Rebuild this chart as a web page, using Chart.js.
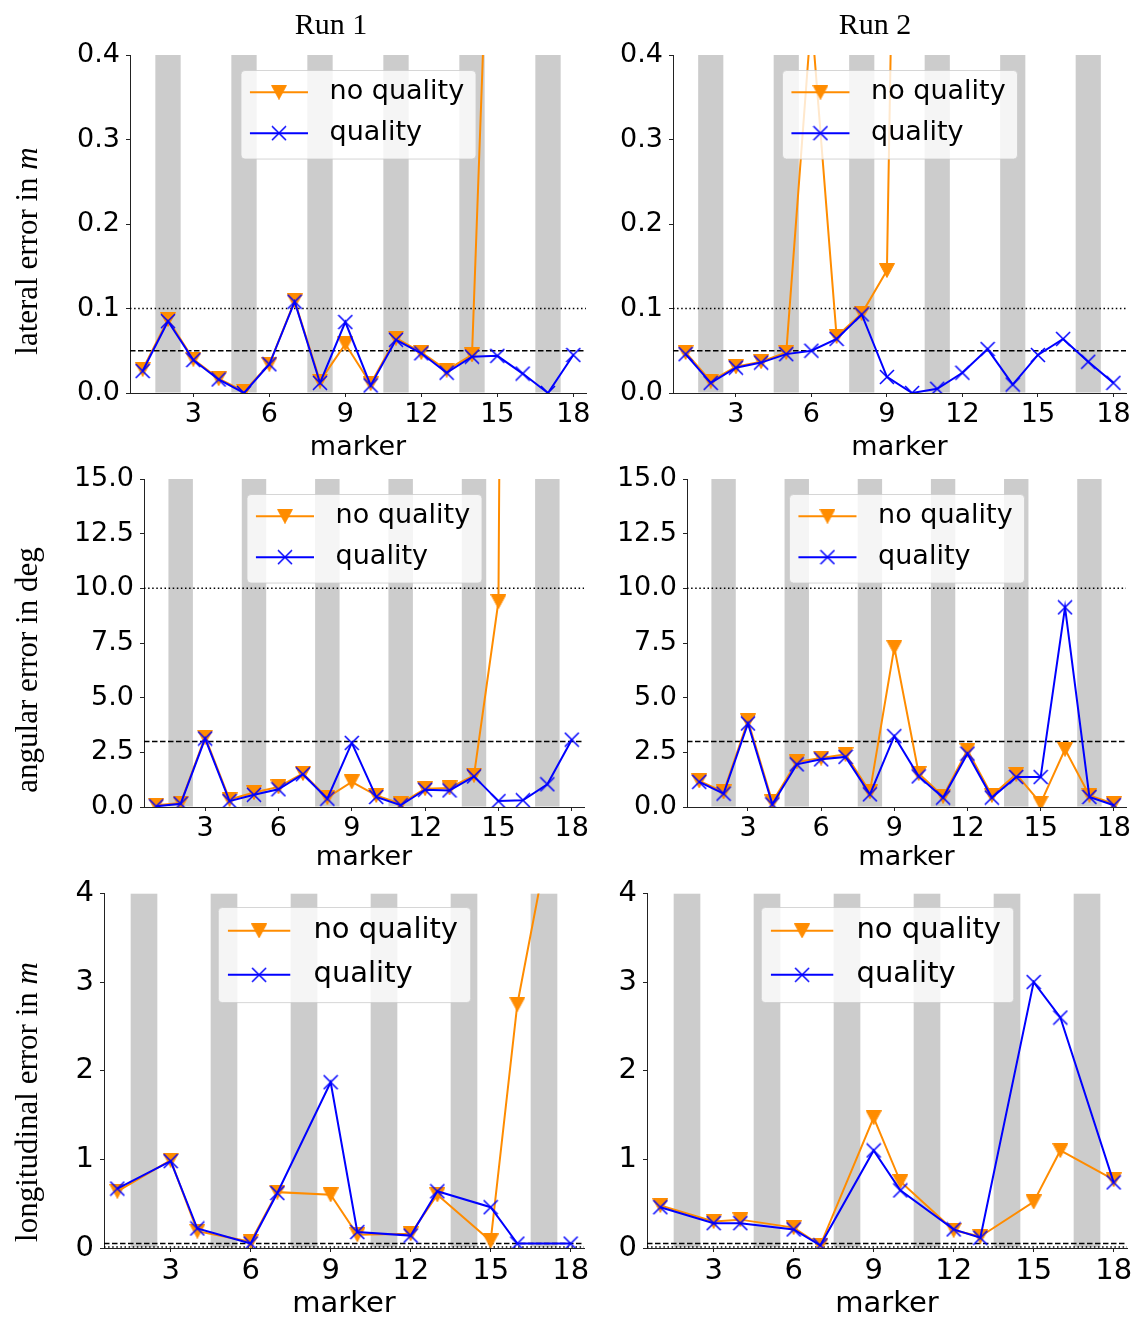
<!DOCTYPE html>
<html><head><meta charset="utf-8">
<script src="https://cdn.jsdelivr.net/npm/chart.js@4.4.0/dist/chart.umd.min.js"></script>
<style>
html,body{margin:0;padding:0;background:#fff;}
#wrap{position:relative;width:1140px;height:1320px;overflow:hidden;background:#fff;}
#wrap canvas{position:absolute;}
</style></head><body><div id="wrap"></div>
<script>
// ---------------- data ----------------
const markers = [1,2,3,4,5,6,7,8,9,10,11,12,13,14,15,16,17,18];
const markersLongitudinal = [1,3,4,6,7,9,10,12,13,15,16,18];
const bandMarkers = [2,5,8,11,14,17];
const xTickValues = [3,6,9,12,15,18];
const seriesLabels = ['no quality','quality'];
const runTitles = ['Run 1','Run 2'];
const xAxisTitle = 'marker';

const lateralRun1NoQuality = [0.028,0.087,0.040,0.017,0.002,0.034,0.109,0.014,0.058,0.011,0.065,0.048,0.027,0.045,0.87,null,null,null];
const lateralRun1Quality   = [0.026,0.085,0.039,0.016,0.000,0.034,0.108,0.012,0.084,0.009,0.063,0.047,0.024,0.043,0.044,0.023,0.000,0.045];
const lateralRun2NoQuality = [0.048,0.014,0.031,0.037,0.048,0.445,0.067,0.094,0.145,1.88,null,null,null,null,null,null,null,null];
const lateralRun2Quality   = [0.046,0.012,0.030,0.036,0.046,0.050,0.064,0.093,0.019,0.000,0.005,0.024,0.052,0.010,0.045,0.064,0.037,0.012];

const angularRun1NoQuality = [0.08,0.18,3.20,0.34,0.66,0.92,1.53,0.43,1.15,0.53,0.15,0.84,0.87,1.45,9.40,180,null,null];
const angularRun1Quality   = [0.03,0.15,3.13,0.27,0.56,0.81,1.50,0.38,2.93,0.46,0.08,0.79,0.76,1.40,0.27,0.31,1.04,3.08];
const angularRun2NoQuality = [1.19,0.69,3.94,0.23,2.06,2.24,2.41,0.69,7.30,1.53,0.49,2.60,0.53,1.50,0.18,2.64,0.53,0.15];
const angularRun2Quality   = [1.15,0.61,3.82,0.12,1.95,2.18,2.29,0.58,3.24,1.40,0.43,2.44,0.43,1.37,1.37,9.13,0.46,0.08];

const longitudinalRun1NoQuality = [0.64,0.99,0.19,0.07,0.63,0.60,0.15,0.16,0.60,0.08,2.75,5.9];
const longitudinalRun1Quality   = [0.67,0.98,0.22,0.05,0.62,1.87,0.18,0.14,0.64,0.46,0.05,0.05];
const longitudinalRun2NoQuality = [0.48,0.30,0.32,0.23,0.03,1.47,0.75,0.20,0.13,0.52,1.10,0.77];
const longitudinalRun2Quality   = [0.46,0.28,0.28,0.21,0.03,1.10,0.65,0.21,0.115,3.00,2.60,0.74];

const lateralTicks = [0,0.1,0.2,0.3,0.4];
const angularTicks = [0,2.5,5,7.5,10,12.5,15];
const longitudinalTicks = [0,1,2,3,4];
const lateralDotted = [0.1], lateralDashed = [0.05];
const angularDotted = [10], angularDashed = [3];
const longitudinalDotted = [0.01], longitudinalDashed = [0.05];

const yLabels = [
  {text:'lateral error in ', italic:'m'},
  {text:'angular error in deg', italic:''},
  {text:'longitudinal error in ', italic:'m'}
];

// ---------------- styles / layout ----------------
const ORANGE = '#ff8c00', BLUE = '#0000ff';
const SANS = '"DejaVu Sans", sans-serif', SERIF = '"Liberation Serif", "Times New Roman", serif';

function triImg(){
  const c=document.createElement('canvas'); c.width=16; c.height=15;
  const g=c.getContext('2d'); g.fillStyle=ORANGE; g.strokeStyle=ORANGE; g.lineWidth=1;
  g.beginPath(); g.moveTo(0.5,0.5); g.lineTo(15.5,0.5); g.lineTo(8,14.5); g.closePath(); g.fill(); g.stroke();
  return c;
}
function xImg(){
  const c=document.createElement('canvas'); c.width=16; c.height=16;
  const g=c.getContext('2d'); g.strokeStyle=BLUE; g.lineWidth=1.5;
  g.beginPath(); g.moveTo(1,1); g.lineTo(15,15); g.moveTo(15,1); g.lineTo(1,15); g.stroke();
  return c;
}
const TRI = triImg(), XM = xImg();

const rowCfg = [
  {font:27, titleY:448, legendTop:70, ylabelCY:251, ticks:lateralTicks, max:0.4, dec:1, dotted:lateralDotted, dashed:lateralDashed},
  {font:27, titleY:858, legendTop:494, ylabelCY:670, ticks:angularTicks, max:15, dec:1, dotted:angularDotted, dashed:angularDashed},
  {font:29, titleY:1304, legendTop:907, ylabelCY:1102, ticks:longitudinalTicks, max:4, dec:0, dotted:longitudinalDotted, dashed:longitudinalDashed}
];
const panels = [
  {row:0,col:0,x:markers,noq:lateralRun1NoQuality,q:lateralRun1Quality,area:{L:130,R:586,T:55,B:393},box:{x0:0,y0:0,x1:600,y1:470}},
  {row:0,col:1,x:markers,noq:lateralRun2NoQuality,q:lateralRun2Quality,area:{L:673,R:1126,T:55,B:393},box:{x0:590,y0:0,x1:1140,y1:470}},
  {row:1,col:0,x:markers,noq:angularRun1NoQuality,q:angularRun1Quality,area:{L:144,R:584,T:479,B:807},box:{x0:0,y0:455,x1:600,y1:880}},
  {row:1,col:1,x:markers,noq:angularRun2NoQuality,q:angularRun2Quality,area:{L:687,R:1126,T:479,B:807},box:{x0:590,y0:455,x1:1140,y1:880}},
  {row:2,col:0,x:markersLongitudinal,noq:longitudinalRun1NoQuality,q:longitudinalRun1Quality,area:{L:104,R:584,T:891,B:1248},box:{x0:0,y0:870,x1:600,y1:1320}},
  {row:2,col:1,x:markersLongitudinal,noq:longitudinalRun2NoQuality,q:longitudinalRun2Quality,area:{L:647,R:1127,T:891,B:1248},box:{x0:590,y0:870,x1:1140,y1:1320}}
];
const titlePos = [{x:331,y:34},{x:875,y:34}];

function toPts(xs, ys){ return xs.map((v,i)=>({x:v, y:ys[i]})); }

const decorPlugin = {
  id:'decor',
  beforeDatasetsDraw(chart, args, o){
    const {ctx, chartArea:{left,right,top,bottom}, scales:{x,y}} = chart;
    ctx.save();
    ctx.beginPath(); ctx.rect(left, top, right-left, bottom-top); ctx.clip();
    ctx.fillStyle = '#cccccc';
    bandMarkers.forEach(m=>{
      const a=x.getPixelForValue(m-0.5), b=x.getPixelForValue(m+0.5);
      ctx.fillRect(a, top, b-a, bottom-top-0.5);
    });
    ctx.strokeStyle='#000'; ctx.lineWidth=1.5;
    ctx.setLineDash([1.5,2.6]);
    o.dotted.forEach(v=>{ const py=y.getPixelForValue(v); ctx.beginPath(); ctx.moveTo(left,py); ctx.lineTo(right,py); ctx.stroke(); });
    ctx.setLineDash([5.5,2.5]);
    o.dashed.forEach(v=>{ const py=y.getPixelForValue(v); ctx.beginPath(); ctx.moveTo(left,py); ctx.lineTo(right,py); ctx.stroke(); });
    ctx.restore();
  },
  afterDatasetsDraw(chart, args, o){
    const {ctx, chartArea:{left,right}} = chart;
    const f=o.font, p=o.panel;
    ctx.save();
    ctx.font = f+'px '+SANS;
    const tw = Math.max(...seriesLabels.map(s=>ctx.measureText(s).width));
    const padL=0.35*f, hl=2.15*f, gap=0.8*f, padR=0.42*f;
    const w = padL+hl+gap+tw+padR, h=3.28*f;
    const cx=(left+right)/2, x0=cx-w/2, y0=o.legendTop-p.box.y0;
    ctx.beginPath(); ctx.roundRect(x0+0.5,y0+0.5,w,h,4);
    ctx.fillStyle='rgba(255,255,255,0.8)'; ctx.fill();
    ctx.strokeStyle='rgba(204,204,204,0.8)'; ctx.lineWidth=1; ctx.stroke();
    const rows=[y0+0.82*f, y0+0.82*f+1.52*f];
    const cols=[ORANGE, BLUE], imgs=[TRI, XM];
    rows.forEach((ry,i)=>{
      ctx.strokeStyle=cols[i]; ctx.lineWidth=2; ctx.setLineDash([]);
      ctx.beginPath(); ctx.moveTo(x0+padL, ry); ctx.lineTo(x0+padL+hl, ry); ctx.stroke();
      const im=imgs[i]; ctx.drawImage(im, x0+padL+hl/2-im.width/2, ry-im.height/2);
      ctx.fillStyle='#000'; ctx.textBaseline='middle'; ctx.textAlign='left';
      ctx.fillText(seriesLabels[i], x0+padL+hl+gap, ry);
    });
    ctx.restore();
  },
  afterDraw(chart, args, o){
    const {ctx}=chart; const p=o.panel;
    ctx.save();
    ctx.fillStyle='#000';
    if (p.row===0){
      const t=titlePos[p.col];
      ctx.font='30px '+SERIF; ctx.textAlign='center'; ctx.textBaseline='alphabetic';
      ctx.fillText(runTitles[p.col], t.x-p.box.x0, t.y-p.box.y0);
    }
    if (p.col===0){
      const lab=yLabels[p.row];
      ctx.translate(37-p.box.x0, o.ylabelCY-p.box.y0);
      ctx.rotate(-Math.PI/2);
      ctx.font='31px '+SERIF;
      const w1=ctx.measureText(lab.text).width;
      ctx.font='italic 31px '+SERIF;
      const w2=lab.italic?ctx.measureText(lab.italic).width:0;
      const sx=-(w1+w2)/2;
      ctx.textAlign='left'; ctx.textBaseline='alphabetic';
      ctx.font='31px '+SERIF; ctx.fillText(lab.text, sx, 0);
      if (lab.italic){ ctx.font='italic 31px '+SERIF; ctx.fillText(lab.italic, sx+w1, 0); }
    }
    ctx.restore();
  }
};

const wrap=document.getElementById('wrap');
panels.forEach(p=>{
  const rc=rowCfg[p.row];
  const cv=document.createElement('canvas');
  cv.width=p.box.x1-p.box.x0; cv.height=p.box.y1-p.box.y0;
  cv.style.left=p.box.x0+'px'; cv.style.top=p.box.y0+'px';
  wrap.appendChild(cv);
  const f=rc.font, lh=f*1.2;
  const axisCommon = {
    grid:{display:true, drawOnChartArea:false, drawTicks:true, tickLength:4, color:'#222', lineWidth:1},
    border:{display:true, color:'#222', width:1}
  };
  new Chart(cv,{
    type:'line',
    data:{datasets:[
      {label:seriesLabels[1], data:toPts(p.x,p.q), borderColor:BLUE, backgroundColor:BLUE, borderWidth:2,
       pointStyle:XM, pointRadius:8, order:0, clip:0, fill:false},
      {label:seriesLabels[0], data:toPts(p.x,p.noq), borderColor:ORANGE, backgroundColor:ORANGE, borderWidth:2,
       pointStyle:TRI, pointRadius:8, order:1, clip:0, fill:false}
    ]},
    options:{
      responsive:false, animation:false, events:[],
      layout:{autoPadding:false, padding:{left:0, top:p.area.T-p.box.y0, right:p.box.x1-p.area.R, bottom:0}},
      scales:{
        x:Object.assign({type:'linear', min:0.5, max:18.5,
          afterBuildTicks:s=>{ s.ticks=xTickValues.map(v=>({value:v})); },
          afterFit:s=>{ s.height=p.box.y1-p.area.B; },
          ticks:{font:{family:SANS,size:f,lineHeight:1.2}, color:'#000', padding:2, maxRotation:0, minRotation:0, autoSkip:false, callback:v=>String(v)},
          title:{display:true, text:xAxisTitle, color:'#000', font:{family:SANS,size:f,lineHeight:1.2}, padding:{top:0,bottom:(p.box.y1-rc.titleY)-lh/2}}
        }, axisCommon),
        y:Object.assign({type:'linear', min:0, max:rc.max,
          afterBuildTicks:s=>{ s.ticks=rc.ticks.map(v=>({value:v})); },
          afterFit:s=>{ s.width=p.area.L-p.box.x0; },
          ticks:{font:{family:SANS,size:f,lineHeight:1.2}, color:'#000', padding:6, autoSkip:false, callback:v=>Number(v).toFixed(rc.dec)}
        }, axisCommon)
      },
      plugins:{legend:{display:false}, tooltip:{enabled:false},
        decor:{panel:p, font:f, legendTop:rc.legendTop, ylabelCY:rc.ylabelCY, dotted:rc.dotted, dashed:rc.dashed}}
    },
    plugins:[decorPlugin]
  });
});
</script>
</body></html>
